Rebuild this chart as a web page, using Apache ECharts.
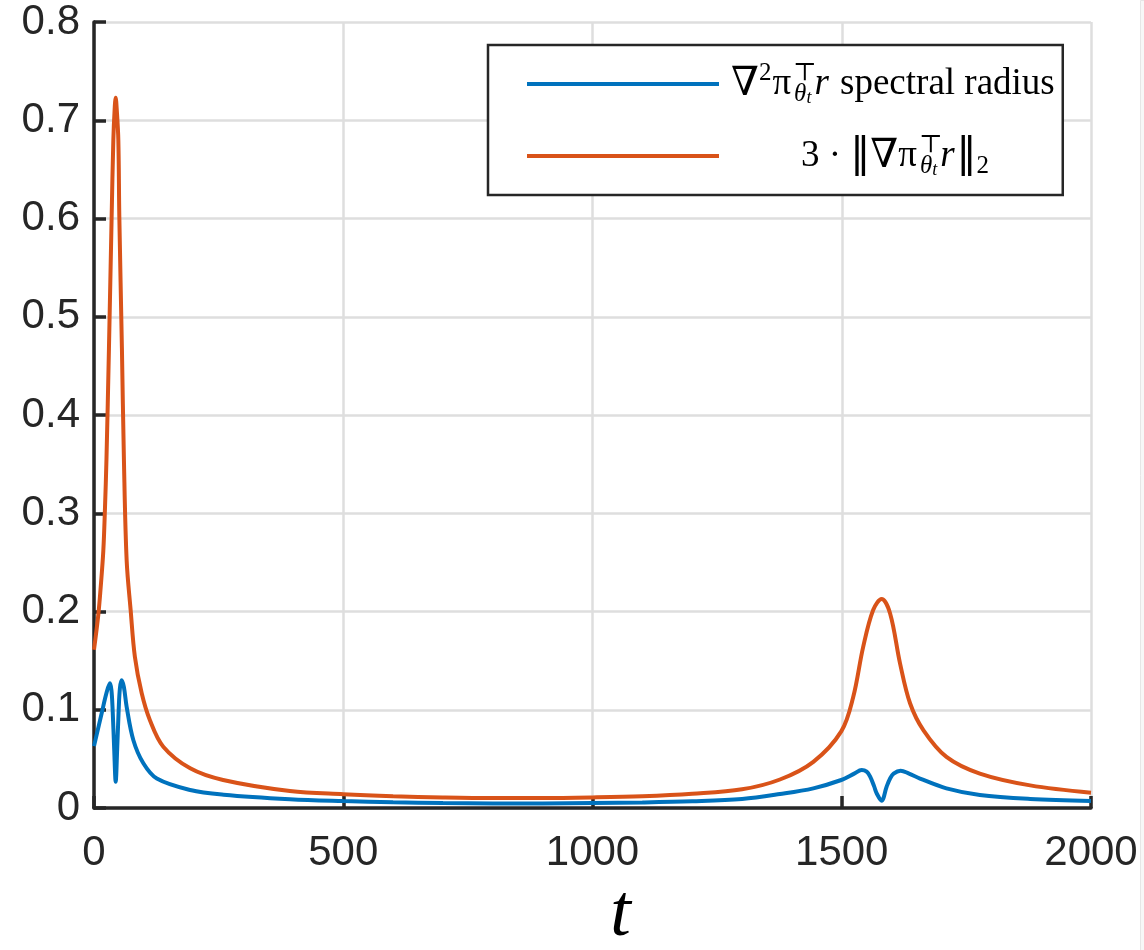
<!DOCTYPE html>
<html>
<head>
<meta charset="utf-8">
<script src="https://cdn.jsdelivr.net/npm/echarts@6/dist/echarts.min.js"></script>
<style>
html,body{margin:0;padding:0;background:#fff;}
#chart{width:1144px;height:950px;}
</style>
</head>
<body>
<div id="chart"></div>
<script>
// ---- data ----
const tOrange = [0, 8.7, 13, 18.7, 22, 25, 30, 35.4, 38.8, 41.5, 43.5, 45.5, 48.8, 50.8, 56, 60, 65.5, 73.5, 82, 95.6, 112, 139, 193, 259, 393, 500, 600, 700, 800, 900, 1000, 1100, 1200, 1300, 1376, 1443, 1499, 1523, 1543, 1563, 1580, 1597, 1617, 1637, 1664, 1710, 1777, 1878, 2000];
const orangeVals = [0.161, 0.197, 0.222, 0.262, 0.305, 0.355, 0.468, 0.602, 0.680, 0.712, 0.723, 0.712, 0.680, 0.602, 0.468, 0.355, 0.252, 0.2015, 0.154, 0.117, 0.0896, 0.0624, 0.0404, 0.0285, 0.0173, 0.0140, 0.0120, 0.0108, 0.0102, 0.0102, 0.0108, 0.0120, 0.0145, 0.0190, 0.029, 0.047, 0.078, 0.113, 0.164, 0.2015, 0.2127, 0.198, 0.147, 0.1066, 0.079, 0.052, 0.035, 0.023, 0.0156];

const tBlue = [0, 15.4, 25, 32, 35, 37.4, 40.5, 43.5, 46.5, 49.5, 52, 55.5, 60, 65.5, 79, 99, 126, 193, 260, 393, 500, 600, 700, 800, 900, 1000, 1100, 1200, 1300, 1376, 1443, 1499, 1525, 1540, 1550, 1557, 1565, 1570, 1580, 1590, 1597, 1604, 1618, 1635, 1657, 1710, 1777, 1878, 2000];
const blueVals = [0.063, 0.0964, 0.117, 0.127, 0.120, 0.0998, 0.060, 0.0268, 0.060, 0.0998, 0.122, 0.130, 0.123, 0.103, 0.069, 0.0455, 0.030, 0.0183, 0.0135, 0.0089, 0.0070, 0.0058, 0.0050, 0.0047, 0.0047, 0.0050, 0.0056, 0.0068, 0.0092, 0.0142, 0.020, 0.0285, 0.035, 0.0387, 0.037, 0.032, 0.022, 0.015, 0.0075, 0.0217, 0.030, 0.035, 0.038, 0.035, 0.030, 0.020, 0.0132, 0.0092, 0.0071];

const xTickLabels = ['0', '500', '1000', '1500', '2000'];
const yTickLabels = ['0', '0.1', '0.2', '0.3', '0.4', '0.5', '0.6', '0.7', '0.8'];
const seriesNames = ['spectral', 'norm'];

// ---- chart ----
const blueData = tBlue.map((t, i) => [t, blueVals[i]]);
const orangeData = tOrange.map((t, i) => [t, orangeVals[i]]);

const chart = echarts.init(document.getElementById('chart'), null, {renderer: 'canvas'});
const axisColor = '#262626';
const gridColor = '#dedede';
const serif = '"Liberation Serif", "DejaVu Serif", serif';

const rich = {
  n0:  {fontFamily: serif, fontSize: 40, color: '#000', lineHeight: 46, verticalAlign: 'middle', padding: [0, 0, 0, 7]},
  n:   {fontFamily: serif, fontSize: 37, color: '#000', lineHeight: 46, verticalAlign: 'middle'},
  nb:  {fontFamily: serif, fontSize: 40, color: '#000', lineHeight: 46, verticalAlign: 'middle'},
  bar: {fontFamily: '"DejaVu Sans", sans-serif', fontSize: 40, color: '#000', lineHeight: 46, verticalAlign: 'middle'},
  i:   {fontFamily: serif, fontStyle: 'italic', fontSize: 37, color: '#000', lineHeight: 46, verticalAlign: 'middle', padding: [0, 2, 0, 0]},
  sup: {fontFamily: serif, fontSize: 25, color: '#000', lineHeight: 25, verticalAlign: 'top', padding: [0, 1, 0, 0]},
  supz:{fontFamily: serif, fontSize: 25, color: '#000', lineHeight: 25, verticalAlign: 'top', width: 1, padding: [0, 0, 0, 2]},
  sub: {fontFamily: serif, fontStyle: 'italic', fontSize: 25, color: '#000', lineHeight: 30, verticalAlign: 'bottom'},
  ss:  {fontFamily: serif, fontStyle: 'italic', fontSize: 18, color: '#000', lineHeight: 20, verticalAlign: 'bottom', padding: [0, 3, 0, 0]},
  s2:  {fontFamily: serif, fontSize: 25, color: '#000', lineHeight: 26, verticalAlign: 'bottom'},
  sp:  {width: 77, lineHeight: 46}
};

chart.setOption({
  animation: false,
  backgroundColor: '#ffffff',
  grid: {left: 94, right: 53, top: 22, bottom: 142, containLabel: false, outerBoundsMode: 'none'},
  xAxis: {
    type: 'value', min: 0, max: 2000, interval: 500,
    name: 't', nameLocation: 'middle', nameGap: 65,
    nameTextStyle: {fontFamily: serif, fontStyle: 'italic', fontSize: 74, color: '#000', padding: [0, 0, 0, 56]},
    axisLine: {show: true, onZero: false, lineStyle: {color: axisColor, width: 3.5}},
    axisTick: {show: true, inside: true, length: 12, lineStyle: {color: axisColor, width: 3.5}},
    axisLabel: {
      margin: 24, fontFamily: '"Liberation Sans", Arial, sans-serif', fontSize: 42, color: axisColor,
      formatter: v => xTickLabels[Math.round(v / 500)]
    },
    splitLine: {show: true, lineStyle: {color: gridColor, width: 2.5}}
  },
  yAxis: {
    type: 'value', min: 0, max: 0.8, interval: 0.1,
    axisLine: {show: true, onZero: false, lineStyle: {color: axisColor, width: 3.5}},
    axisTick: {show: true, inside: true, length: 12, lineStyle: {color: axisColor, width: 3.5}},
    axisLabel: {
      margin: 14, fontFamily: '"Liberation Sans", Arial, sans-serif', fontSize: 42, color: axisColor,
      formatter: v => yTickLabels[Math.round(v * 10)]
    },
    splitLine: {show: true, lineStyle: {color: gridColor, width: 2.5}}
  },
  legend: {
    orient: 'vertical', left: 488, top: 45,
    padding: [16, 8, 16, 39],
    icon: 'rect',
    itemWidth: 192, itemHeight: 4, itemGap: 26,
    borderColor: axisColor, borderWidth: 2.5, backgroundColor: '#ffffff',
    data: seriesNames,
    textStyle: {fontFamily: serif, fontSize: 37, color: '#000', rich: rich},
    formatter: function (name) {
      if (name === seriesNames[0]) {
        return '{n0|∇}{sup|2}{n|π}{supz|⊤}{sub|θ}{ss|t}{i|r}{n| spectral radius}';
      }
      return '{sp| }{n|3 · }{bar|‖}{nb|∇}{n|π}{supz|⊤}{sub|θ}{ss|t}{i|r}{bar|‖}{s2|2}';
    }
  },
  series: [
    {
      name: seriesNames[0], type: 'line', data: blueData, symbol: 'none',
      smooth: 0.35,
      lineStyle: {color: '#0072BD', width: 4}, itemStyle: {color: '#0072BD'}
    },
    {
      name: seriesNames[1], type: 'line', data: orangeData, symbol: 'none',
      smooth: 0.35,
      lineStyle: {color: '#D95319', width: 4}, itemStyle: {color: '#D95319'}
    }
  ],
  graphic: [
    {type: 'rect', left: 1140, top: 0, shape: {width: 4, height: 950}, style: {fill: '#f7f7f7', stroke: '#e6e6e6', lineWidth: 1}, silent: true}
  ]
});
</script>
</body>
</html>
